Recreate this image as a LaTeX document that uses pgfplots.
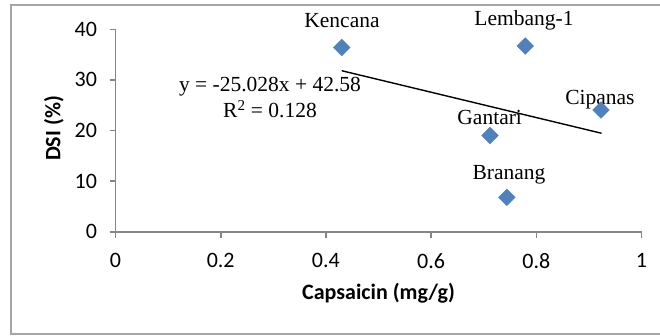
\documentclass[border=0pt]{standalone}
\usepackage{pgfplots}
\pgfplotsset{compat=1.18}
\usepackage{fontspec}
\setmainfont{Liberation Serif}
\newfontfamily\calibri{Carlito}
\definecolor{ptblue}{HTML}{4F81BD}
\definecolor{axgray}{HTML}{868686}
\definecolor{framegray}{HTML}{A6A6A6}
\begin{document}
\begin{tikzpicture}[x=1pt,y=1pt]
\useasboundingbox (0,0) rectangle (660,335);
\draw[framegray,line width=1.2pt] (660,330) -- (11,330) -- (11,1) -- (660,1);
\begin{axis}[
  at={(115.5pt,103.3pt)}, anchor=south west,
  scale only axis, width=526pt, height=202.4pt,
  xmin=0, xmax=1, ymin=0, ymax=40,
  axis x line=bottom, axis y line=left,
  axis line style={-, axgray, line width=1.6pt},
  xtick={0,0.2,0.4,0.6,0.8,1}, ytick={0,10,20,30,40},
  xticklabels={0,0.2,0.4,0.6,0.8,1},
  tick align=outside, major tick length=6pt,
  tick style={axgray, line width=1.6pt},
  /pgf/number format/assume math mode=true,
  tick label style={font=\calibri\fontsize{22}{22}\selectfont, black},
  xticklabel style={yshift=-12pt},
  yticklabel style={xshift=-9pt},
  xlabel={Capsaicin (mg/g)}, ylabel={DSI (\%)},
  label style={font=\calibri\bfseries\fontsize{22}{22}\selectfont},
  xlabel style={at={(axis description cs:0.5,-0.303)}, anchor=center},
  ylabel style={at={(axis description cs:-0.117,0.51)}, anchor=center},
  clip=false,
]
\addplot[only marks, mark=square*, mark size=5.9pt, mark options={rotate=45, fill=ptblue, draw=ptblue}]
  coordinates {(0.430,36.4) (0.779,36.7) (0.923,24.05) (0.712,19.0) (0.744,6.8)};
\addplot[black, line width=1.4pt] coordinates {(0.430,31.818) (0.924,19.454)};
\begin{scope}[every node/.style={font=\fontsize{21.5}{21.5}\selectfont, anchor=center, inner sep=0pt}]
\node at (axis cs:0.4306,41.8) {Kencana};
\node at (axis cs:0.7766,41.8) {Lembang-1};
\node at (axis cs:0.921,26.0) {Cipanas};
\node at (axis cs:0.7114,22.5) {Gantari};
\node at (axis cs:0.748,11.2) {Branang};
\node at (axis cs:0.2937,28.6) {y = -25.028x + 42.58};
\node at (axis cs:0.2937,24.2) {R\textsuperscript{2} = 0.128};
\end{scope}
\end{axis}
\end{tikzpicture}
\end{document}
